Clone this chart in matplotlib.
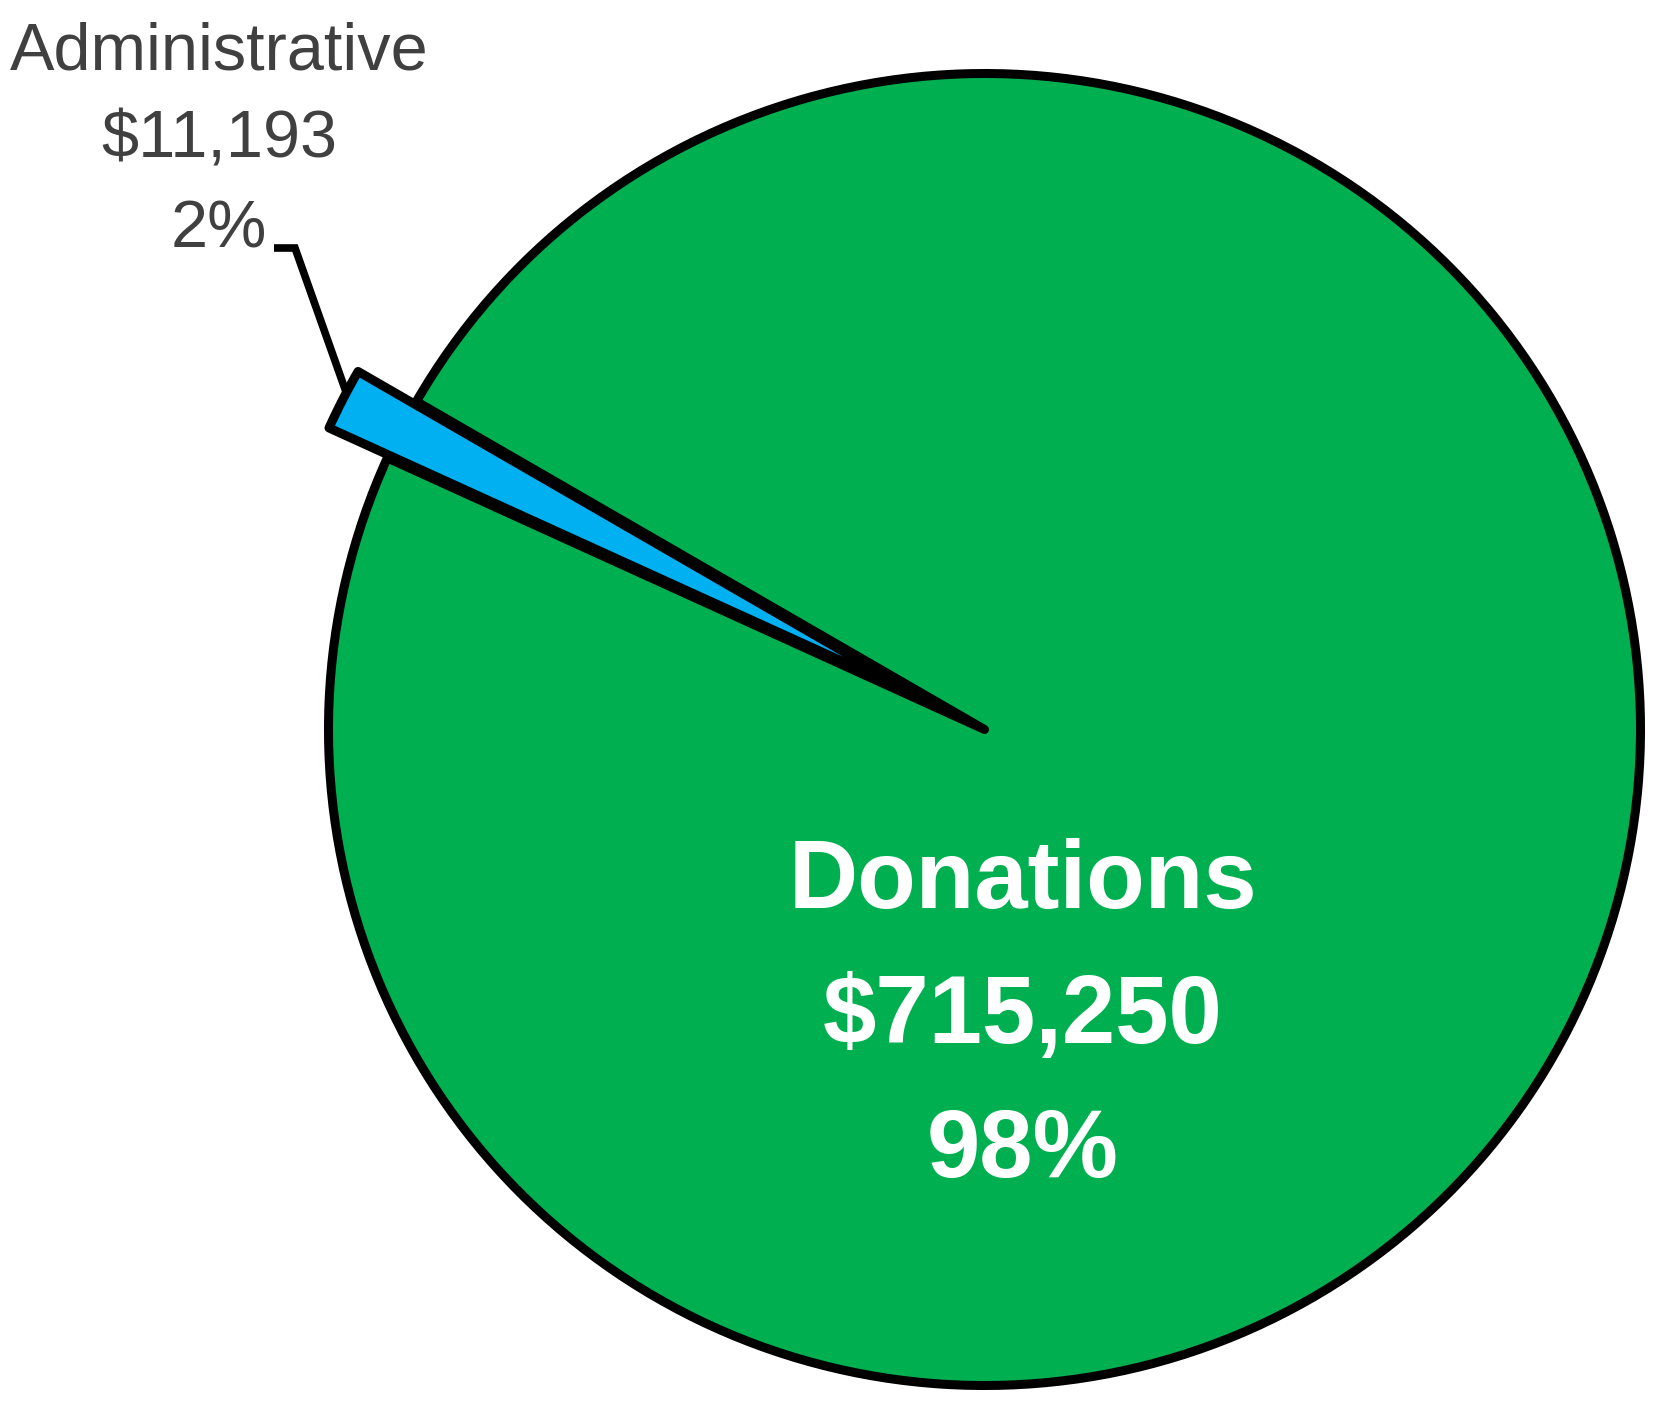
import numpy as np
import matplotlib
matplotlib.use("Agg")
import matplotlib.pyplot as plt

# ---- data ----
categories = ["Administrative", "Donations"]
values = [11193, 715250]
colors = ["#00B0F0", "#00B050"]
explode_frac = [0.1, 0.0]

plt.rcParams['font.family'] = ['Liberation Sans', 'DejaVu Sans']

W, H = 1678, 1426
fig = plt.figure(figsize=(W / 100, H / 100), dpi=100)
ax = fig.add_axes([0, 0, 1, 1])

R = 656
center = (984.5, 696.5)
wedges, _ = ax.pie(values, colors=colors,
                   explode=[e * R for e in explode_frac], startangle=150,
                   counterclock=True, radius=R, center=center,
                   wedgeprops=dict(edgecolor="black", linewidth=6.5,
                                   joinstyle="round"))
for w in wedges:
    w.set_clip_on(False)
wedges[0].set_zorder(3)
wedges[1].set_zorder(2)

ax.set_xlim(0, W)
ax.set_ylim(0, H)
ax.set_aspect('auto')
ax.axis('off')

total = sum(values)
pcts = [round(v / total * 100) for v in values]

# Donations label (inside, white bold)
don_x = 1023
don_baselines = [H - 908, H - 1043, H - 1177]
don_lines = [categories[1], f"${values[1]:,}", f"{pcts[1]}%"]
for txt, yb in zip(don_lines, don_baselines):
    ax.text(don_x, yb, txt, ha='center', va='baseline', color='white',
            fontsize=69, fontweight='bold', zorder=5)

# Administrative label (outside, gray)
adm_x = 219
adm_baselines = [H - 70, H - 157, H - 248]
adm_lines = [categories[0], f"${values[0]:,}", f"{pcts[0]}%"]
for txt, yb in zip(adm_lines, adm_baselines):
    ax.text(adm_x, yb, txt, ha='center', va='baseline', color='#404040',
            fontsize=48, zorder=5)

# leader line from label to admin wedge outer arc midpoint
w = wedges[0]
tm = np.deg2rad((w.theta1 + w.theta2) / 2)
cx, cy = w.center
px, py = cx + (w.r - 8) * np.cos(tm), cy + (w.r - 8) * np.sin(tm)
y_leader = H - 248
ax.plot([274, 295, px], [y_leader, y_leader, py], color='black', lw=5.5,
        solid_joinstyle='miter', solid_capstyle='butt', zorder=2.5,
        clip_on=False)

fig.savefig("out.png", dpi=100, facecolor='white')
